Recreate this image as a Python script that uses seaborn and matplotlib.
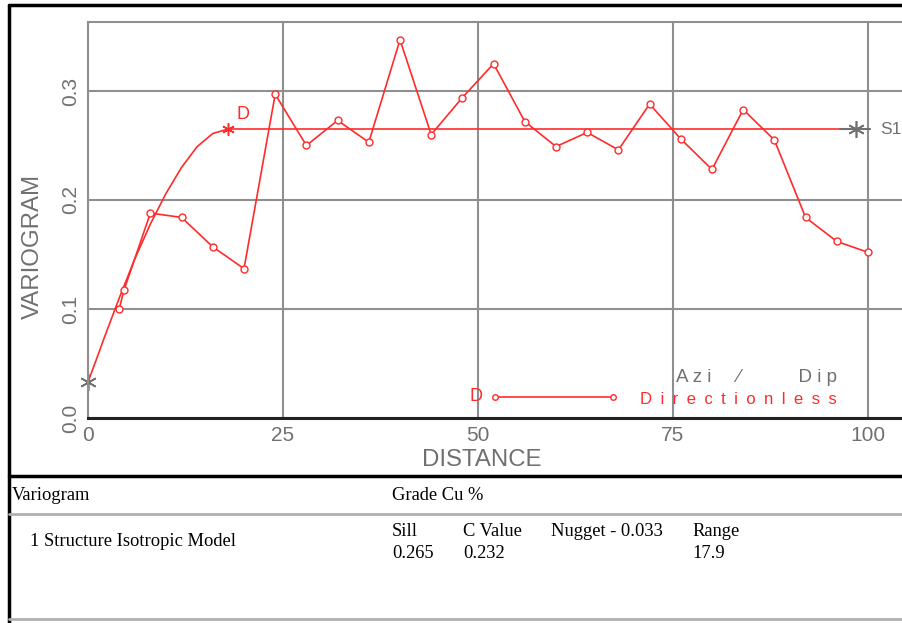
import numpy as np
import pandas as pd
import seaborn as sns
import matplotlib.pyplot as plt
from matplotlib.lines import Line2D

lag = [4, 4.6, 8, 12, 16, 20, 24, 28, 32, 36, 40, 44, 48, 52, 56, 60, 64, 68,
       72, 76, 80, 84, 88, 92, 96, 100]
gamma = [0.100, 0.117, 0.188, 0.184, 0.157, 0.137, 0.297, 0.250, 0.273, 0.253,
         0.347, 0.260, 0.294, 0.325, 0.272, 0.249, 0.262, 0.246, 0.288, 0.256,
         0.228, 0.283, 0.255, 0.184, 0.162, 0.152]

# fitted model curve
model_h = [0, 1.5, 2, 4, 6, 8, 10, 12, 14, 16, 17.9]
model_g = [0.033, 0.062, 0.072, 0.110, 0.146, 0.178, 0.206, 0.230, 0.249, 0.261, 0.265]
sill_h = [17.9, 96.4]
sill_g = [0.265, 0.265]
s1_h = [96.4, 100.3]
s1_g = [0.265, 0.265]

nugget, c_value, sill, rng = 0.033, 0.232, 0.265, 17.9
xticks = [0, 25, 50, 75, 100]
yticks = [0.0, 0.1, 0.2, 0.3]

RED = '#ff2b2b'
GRAY = '#707070'
GRID = '#8f8f8f'

sns.set_style("white")
plt.rcParams['font.family'] = ['Liberation Sans', 'DejaVu Sans']

fig = plt.figure(figsize=(9.02, 6.23), dpi=100)
ax = fig.add_axes([88 / 902, 1 - 418 / 623, (902 - 88) / 902, (418 - 22) / 623])

exp = pd.DataFrame({'lag': lag, 'gamma': gamma})
mod = pd.DataFrame({'h': model_h, 'g': model_g})

sns.lineplot(data=mod, x='h', y='g', color=RED, lw=1.2, ax=ax, sort=False)
sns.lineplot(x=sill_h, y=sill_g, color=RED, lw=1.2, ax=ax)
sns.lineplot(x=s1_h, y=s1_g, color=GRAY, lw=1.5, ax=ax)
sns.lineplot(data=exp, x='lag', y='gamma', color=RED, lw=1.2, marker='o',
             markersize=5, markerfacecolor='white', markeredgecolor=RED,
             markeredgewidth=1, ax=ax, sort=False)

# asterisks: nugget, range, S1
ax.plot([0], [nugget], marker=(6, 2, 0), ms=12, color=GRAY, mew=1.2, clip_on=False)
ax.plot([rng], [sill], marker=(6, 2, 0), ms=9, color=RED, mew=1.1)
ax.plot([98.5], [sill], marker=(6, 2, 0), ms=12, color=GRAY, mew=1.2)
ax.text(19.0, 0.274, 'D', color=RED, fontsize=13)
ax.text(101.6, 0.265, 'S1', color=GRAY, fontsize=12.5, va='center')

# legend block
ax.text(49.8, 0.0193, 'D', color=RED, fontsize=13, va='center', ha='center')
ax.plot([52.2, 67.3], [0.0193, 0.0193], color=RED, lw=1.2, marker='o', ms=4,
        mfc='white', mec=RED)
ax.text(70.8, 0.0174, '\u2002'.join('Directionless'), color=RED, fontsize=12.1,
        va='center')
ax.text(75.4, 0.0367, 'A z i     ⁄           D i p', color=GRAY, fontsize=13.5,
        va='center')

ax.set_xlim(0, 104.36)
ax.set_ylim(0, 0.3633)
ax.set_xticks(xticks)
ax.set_yticks(yticks)
ax.set_xticklabels([str(t) for t in xticks], color=GRAY, fontsize=15)
ax.set_yticklabels(['%.1f' % t for t in yticks], color=GRAY, fontsize=15,
                   rotation=90, va='center')
ax.tick_params(length=0, pad=6)
ax.grid(True, color=GRID, lw=1.5)
ax.set_xlabel('')
ax.set_ylabel('')
for s in ['left', 'top']:
    ax.spines[s].set_color(GRID)
    ax.spines[s].set_linewidth(1.5)
ax.spines['right'].set_visible(False)
ax.spines['bottom'].set_color('#222222')
ax.spines['bottom'].set_linewidth(2.2)

fig.text(33 / 902, 1 - 246 / 623, 'VARIOGRAM', rotation=90, color=GRAY,
         fontsize=17.3, ha='center', va='center')
fig.text(482 / 902, 1 - 460 / 623, 'DISTANCE', color=GRAY, fontsize=17.3,
         ha='center', va='center')

# outer frame and table rules
fig.add_artist(Line2D([9 / 902, 1], [1 - 5 / 623] * 2, color='black', lw=2.5))
fig.add_artist(Line2D([9 / 902] * 2, [0, 1 - 5 / 623], color='black', lw=2.5))
fig.add_artist(Line2D([9 / 902, 1], [1 - 476 / 623] * 2, color='black', lw=2.5))
fig.add_artist(Line2D([9 / 902, 1], [1 - 514 / 623] * 2, color='#b0b0b0', lw=2))
fig.add_artist(Line2D([9 / 902, 1], [1 - 619 / 623] * 2, color='#b0b0b0', lw=2))

serif = ['Liberation Serif', 'DejaVu Serif']
tkw = dict(family=serif, fontsize=13.3, color='black', va='center')
fig.text(12 / 902, 1 - 495 / 623, 'Variogram', **tkw)
fig.text(392 / 902, 1 - 495 / 623, 'Grade Cu %', **tkw)
fig.text(30 / 902, 1 - 542 / 623, '1 Structure Isotropic Model', **tkw)
fig.text(392 / 902, 1 - 531 / 623, 'Sill', **tkw)
fig.text(392 / 902, 1 - 553 / 623, '%.3f' % sill, **tkw)
fig.text(463 / 902, 1 - 531 / 623, 'C Value', **tkw)
fig.text(463 / 902, 1 - 553 / 623, '%.3f' % c_value, **tkw)
fig.text(551 / 902, 1 - 531 / 623, 'Nugget - %.3f' % nugget, **tkw)
fig.text(692 / 902, 1 - 531 / 623, 'Range', **tkw)
fig.text(692 / 902, 1 - 553 / 623, '%.1f' % rng, **tkw)

fig.savefig('out.png', dpi=100)
